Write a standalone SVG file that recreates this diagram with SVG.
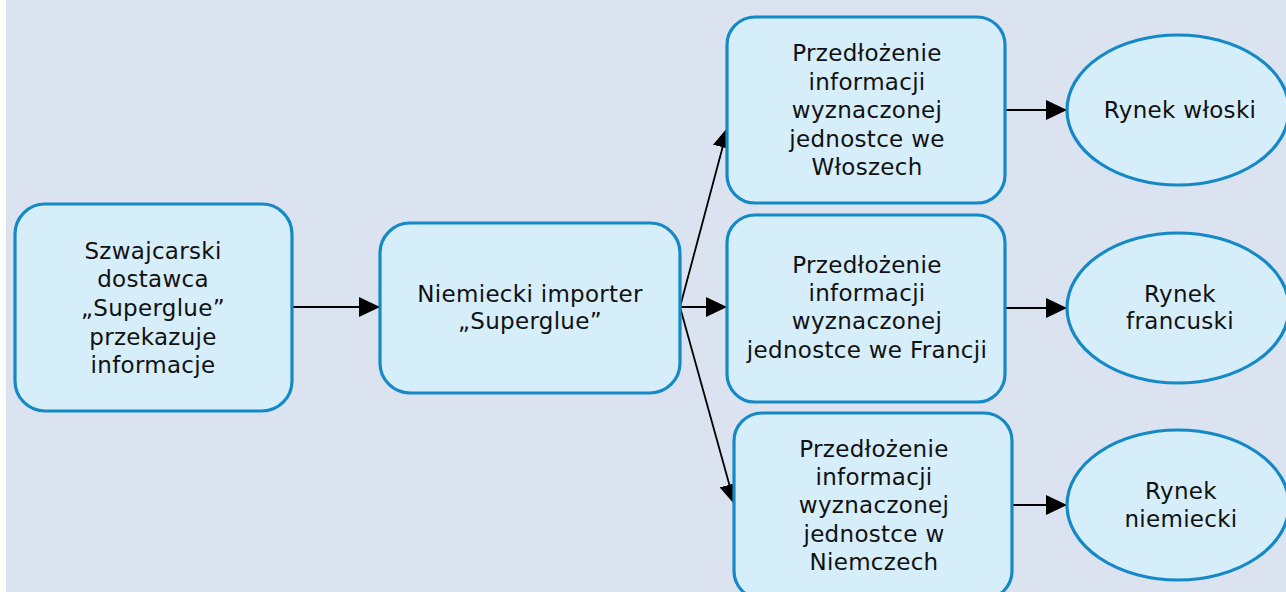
<svg xmlns="http://www.w3.org/2000/svg" width="1286" height="592" viewBox="0 0 1286 592">
  <style>
    .box { fill: #d6edfa; stroke: #1589c6; stroke-width: 3.2; }
    .lbl { font-family: "DejaVu Sans", Verdana, sans-serif; font-size: 23px; letter-spacing: 0.3px; fill: #111; text-anchor: middle; }
    .edge { stroke: #000; stroke-width: 1.8; fill: none; marker-end: url(#head); }
  </style>
  <defs>
    <marker id="head" markerUnits="userSpaceOnUse" markerWidth="22" markerHeight="20" refX="21" refY="10" orient="auto">
      <path d="M0,0 L21,10 L0,20 Z" fill="#000"/>
    </marker>
  </defs>

  <rect x="0" y="0" width="1286" height="592" fill="#ffffff"/>
  <rect x="6" y="0" width="1280" height="592" fill="#dae3ef"/>

  <g id="connectors">
    <line class="edge" x1="292" y1="307" x2="380" y2="307"/>
    <line class="edge" x1="680" y1="307" x2="728" y2="127"/>
    <line class="edge" x1="680" y1="307" x2="727" y2="307"/>
    <line class="edge" x1="680" y1="307" x2="735" y2="505"/>
    <line class="edge" x1="1005" y1="110" x2="1067" y2="110"/>
    <line class="edge" x1="1005" y1="308" x2="1067" y2="308"/>
    <line class="edge" x1="1012" y1="505" x2="1067" y2="505"/>
  </g>

  <g id="supplier">
    <rect class="box" x="15" y="204" width="277" height="207" rx="30"/>
    <text class="lbl" x="153" y="259">Szwajcarski</text>
    <text class="lbl" x="153" y="287">dostawca</text>
    <text class="lbl" x="153" y="316">„Superglue”</text>
    <text class="lbl" x="153" y="345">przekazuje</text>
    <text class="lbl" x="153" y="373">informacje</text>
  </g>

  <g id="importer">
    <rect class="box" x="380" y="223" width="300" height="170" rx="30"/>
    <text class="lbl" x="530" y="302">Niemiecki importer</text>
    <text class="lbl" x="530" y="329">„Superglue”</text>
  </g>

  <g id="submit-it">
    <rect class="box" x="727" y="17" width="278" height="186" rx="28"/>
    <text class="lbl" x="867" y="61">Przedłożenie</text>
    <text class="lbl" x="867" y="90">informacji</text>
    <text class="lbl" x="867" y="118">wyznaczonej</text>
    <text class="lbl" x="867" y="147">jednostce we</text>
    <text class="lbl" x="867" y="175">Włoszech</text>
  </g>

  <g id="submit-fr">
    <rect class="box" x="727" y="215" width="278" height="187" rx="28"/>
    <text class="lbl" x="867" y="273">Przedłożenie</text>
    <text class="lbl" x="867" y="301">informacji</text>
    <text class="lbl" x="867" y="329">wyznaczonej</text>
    <text class="lbl" x="867" y="358">jednostce we Francji</text>
  </g>

  <g id="submit-de">
    <rect class="box" x="734" y="413" width="278" height="186" rx="28"/>
    <text class="lbl" x="874" y="457">Przedłożenie</text>
    <text class="lbl" x="874" y="485">informacji</text>
    <text class="lbl" x="874" y="513">wyznaczonej</text>
    <text class="lbl" x="874" y="542">jednostce w</text>
    <text class="lbl" x="874" y="570">Niemczech</text>
  </g>

  <g id="market-it">
    <ellipse class="box" cx="1178" cy="110" rx="111" ry="75"/>
    <text class="lbl" x="1180" y="118">Rynek włoski</text>
  </g>

  <g id="market-fr">
    <ellipse class="box" cx="1178" cy="308" rx="111" ry="75"/>
    <text class="lbl" x="1180" y="302">Rynek</text>
    <text class="lbl" x="1180" y="329">francuski</text>
  </g>

  <g id="market-de">
    <ellipse class="box" cx="1178" cy="505" rx="111" ry="75"/>
    <text class="lbl" x="1181" y="499">Rynek</text>
    <text class="lbl" x="1181" y="527">niemiecki</text>
  </g>
</svg>
